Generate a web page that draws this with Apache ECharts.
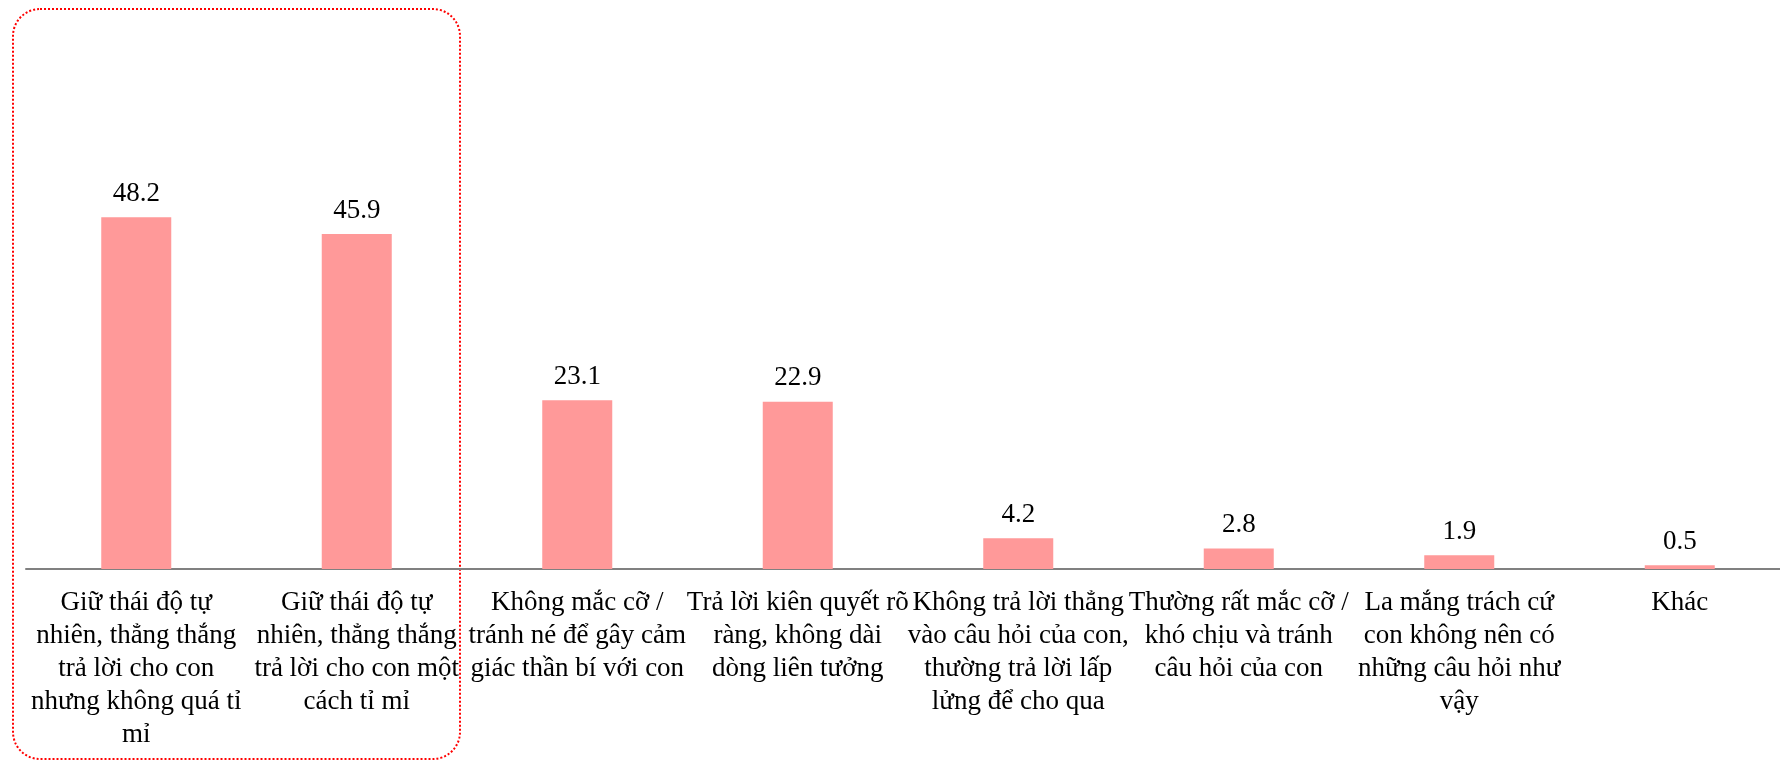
<!DOCTYPE html>
<html>
<head>
<meta charset="utf-8">
<script src="https://cdn.jsdelivr.net/npm/echarts@6/dist/echarts.min.js"></script>
<style>
  html, body { margin: 0; padding: 0; background: #fff; }
  #chart { width: 1780px; height: 760px; }
</style>
</head>
<body>
<div id="chart"></div>
<script>
// categories (line breaks as in the original)
const categories = [
  'Giữ thái độ tự\nnhiên, thẳng thắng\ntrả lời cho con\nnhưng không quá tỉ\nmỉ',
  'Giữ thái độ tự\nnhiên, thẳng thắng\ntrả lời cho con một\ncách tỉ mỉ',
  'Không mắc cỡ /\ntránh né để gây cảm\ngiác thần bí với con',
  'Trả lời kiên quyết rõ\nràng, không dài\ndòng liên tưởng',
  'Không trả lời thẳng\nvào câu hỏi của con,\nthường trả lời lấp\nlửng để cho qua',
  'Thường rất mắc cỡ /\nkhó chịu và tránh\ncâu hỏi của con',
  'La mắng trách cứ\ncon không nên có\nnhững câu hỏi như\nvậy',
  'Khác'
];
const values = [48.2, 45.9, 23.1, 22.9, 4.2, 2.8, 1.9, 0.5];

const fontFamily = '"Liberation Serif", "Times New Roman", serif';
const chart = echarts.init(document.getElementById('chart'));

chart.setOption({
  animation: false,
  grid: {
    left: 26,
    width: 1764,
    bottom: 191,
    height: 438,
    outerBoundsMode: 'none'
  },
  xAxis: {
    type: 'category',
    data: categories,
    axisLine: { lineStyle: { color: '#808080', width: 2 } },
    axisTick: { show: false },
    axisLabel: {
      interval: 0,
      margin: 17,
      fontFamily: fontFamily,
      fontSize: 27,
      lineHeight: 33,
      color: '#000',
      align: 'center'
    }
  },
  yAxis: {
    type: 'value',
    min: 0,
    max: 60,
    show: false
  },
  series: [
    {
      type: 'bar',
      data: values,
      barWidth: 70,
      itemStyle: { color: '#ff9999' },
      label: {
        show: true,
        position: 'top',
        distance: 10,
        fontFamily: fontFamily,
        fontSize: 27,
        color: '#000'
      }
    }
  ],
  graphic: [
    {
      type: 'rect',
      shape: { x: 13, y: 9, width: 447, height: 750, r: 27 },
      style: {
        fill: 'none',
        stroke: '#ff0000',
        lineWidth: 2,
        lineDash: [2, 2]
      },
      silent: true
    }
  ]
});
</script>
</body>
</html>
